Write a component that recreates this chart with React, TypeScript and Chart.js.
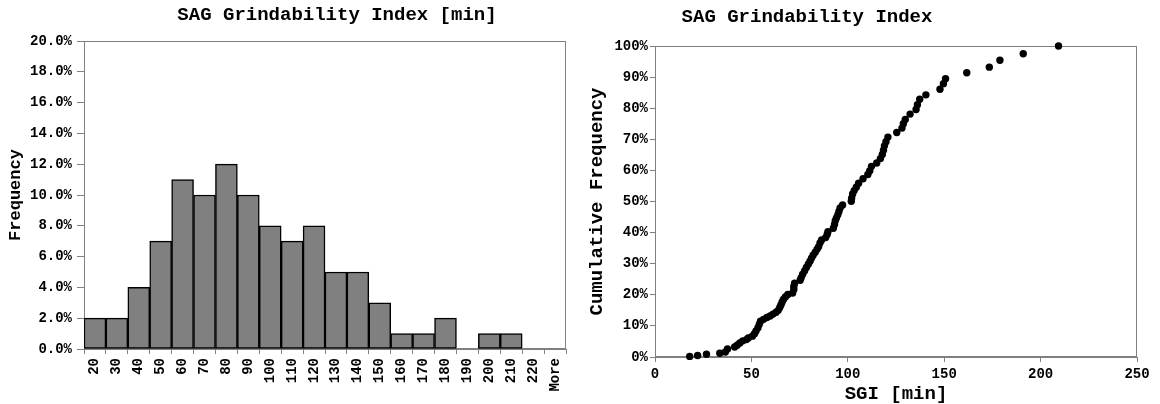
import React, { useEffect, useRef } from "react";
import { Chart, registerables } from "chart.js";

Chart.register(...registerables);

// ---------- data ----------
const binLabels = ["20", "30", "40", "50", "60", "70", "80", "90", "100", "110", "120", "130", "140", "150", "160", "170", "180", "190", "200", "210", "220", "More"];
const binFrequency = [2, 2, 4, 7, 11, 10, 12, 10, 8, 7, 8, 5, 5, 3, 1, 1, 2, 0, 1, 1, 0, 0];

const sgiValues = [
  18.0, 22.1, 26.7, 33.6, 36.5, 37.6, 41.3, 42.6, 44.0, 45.5, 47.4, 48.4, 50.5, 51.6, 52.4, 53.4,
  54.1, 54.7, 56.3, 58.0, 59.7, 61.2, 62.8, 63.9, 64.7, 65.3, 65.9, 66.6, 67.6, 68.9, 71.4, 72.0,
  72.0, 72.4, 75.3, 75.8, 76.6, 77.6, 78.5, 79.5, 80.4, 81.2, 82.0, 83.1, 84.1, 84.9, 85.6, 86.4,
  88.5, 89.3, 89.7, 92.5, 93.1, 93.5, 94.1, 94.8, 95.4, 96.0, 97.3, 101.8, 102.0, 102.5, 103.3,
  104.4, 105.6, 107.9, 110.4, 111.4, 112.3, 115.0, 116.9, 117.9, 118.5, 119.0, 119.8, 120.8,
  125.4, 128.1, 128.8, 129.8, 132.3, 135.4, 136.1, 137.3, 140.5, 147.8, 149.6, 150.7, 161.7,
  173.4, 178.9, 191.0, 209.3,
];
const cumulativeFrequency = [
  0.2, 0.5, 0.9, 1.2, 1.6, 2.6, 3.2, 3.8, 4.5, 5.2, 5.6, 6.1, 6.7, 7.5, 8.4, 9.4,
  10.5, 11.5, 12.1, 12.7, 13.2, 13.8, 14.4, 15.0, 15.9, 16.7, 17.6, 18.5, 19.3, 20.1, 20.6, 21.7,
  22.7, 23.7, 24.7, 25.5, 26.6, 27.7, 28.8, 29.8, 30.8, 31.8, 32.7, 33.7, 34.7, 35.5, 36.7, 37.6,
  38.4, 39.4, 40.3, 41.4, 42.6, 43.8, 44.7, 45.7, 46.8, 47.9, 48.9, 50.1, 51.1, 52.4, 53.5,
  54.6, 55.9, 57.3, 58.7, 59.9, 61.3, 62.4, 63.8, 65.1, 66.5, 67.9, 69.2, 70.7,
  72.2, 73.6, 75.0, 76.4, 78.1, 79.6, 81.1, 82.9, 84.3, 86.1, 87.9, 89.5, 91.4,
  93.2, 95.4, 97.5, 100,
];

const histTitle = "SAG Grindability Index [min]";
const cumTitle = "SAG Grindability Index";

// ---------- styling ----------
const FONT = "'Liberation Mono', 'Courier New', monospace";
const GRAY = "#808080";

const frameBorder = {
  id: "frameBorder",
  beforeDatasetsDraw(chart: any) {
    const { ctx, chartArea } = chart;
    const { left, top, right, bottom } = chartArea;
    ctx.save();
    ctx.strokeStyle = GRAY;
    ctx.lineWidth = 1;
    ctx.strokeRect(Math.round(left) + 0.5, Math.round(top) + 0.5, Math.round(right - left) - 1, Math.round(bottom - top) - 1);
    ctx.restore();
  },
};

// chart title drawn as text at a fixed centre (the reference title is not centred on the plot)
const fixedTitle = {
  id: "fixedTitle",
  afterDraw(chart: any, _args: any, opts: any) {
    if (!opts || !opts.text) return;
    const { ctx } = chart;
    ctx.save();
    ctx.font = `bold ${opts.size}px ${FONT}`;
    ctx.fillStyle = "#000";
    ctx.textAlign = "center";
    ctx.textBaseline = "middle";
    ctx.fillText(opts.text, opts.x, opts.y);
    ctx.restore();
  },
};

export default function App() {
  const leftRef = useRef<HTMLCanvasElement>(null);
  const rightRef = useRef<HTMLCanvasElement>(null);

  useEffect(() => {
    Chart.defaults.color = "#000";
    Chart.defaults.font.family = FONT;

    const tickFont = { family: FONT, size: 14, weight: "bold" as const };

    const left = new Chart(leftRef.current!, {
      type: "bar",
      data: {
        labels: binLabels,
        datasets: [
          {
            data: binFrequency,
            backgroundColor: GRAY,
            borderColor: "#000",
            borderWidth: (c: any) => (c.raw === 0 ? 0 : 1.5),
            borderSkipped: false,
            barPercentage: 1,
            categoryPercentage: 1,
          },
        ],
      },
      options: {
        responsive: false,
        animation: false,
        devicePixelRatio: 1,
        layout: { padding: { left: 0, right: 14, top: 41, bottom: 0 } },
        plugins: {
          legend: { display: false },
          tooltip: { enabled: false },
          title: { display: false },
          fixedTitle: { text: histTitle, x: 337, y: 15.5, size: 19 },
        } as any,
        scales: {
          x: {
            type: "category",
            offset: true,
            grid: { display: true, drawOnChartArea: false, drawTicks: true, tickLength: 5, color: GRAY, offset: true },
            border: { display: true, color: GRAY },
            ticks: { minRotation: 90, maxRotation: 90, autoSkip: false, padding: 4, font: tickFont, color: "#000" },
            afterFit(s: any) {
              s.height = 55;
            },
          },
          y: {
            min: 0,
            max: 20,
            ticks: {
              stepSize: 2,
              padding: 5,
              font: tickFont,
              color: "#000",
              callback: (v: any) => Number(v).toFixed(1) + "%",
            },
            grid: { drawOnChartArea: false, tickLength: 7, color: GRAY },
            border: { display: true, color: GRAY },
            title: {
              display: true,
              text: "Frequency",
              color: "#000",
              font: { family: FONT, size: 17, weight: "bold", lineHeight: 1.2 },
              padding: { top: 6, bottom: 0 },
            },
            afterFit(s: any) {
              s.width = 84;
            },
          },
        },
      },
      plugins: [frameBorder, fixedTitle],
    });

    const right = new Chart(rightRef.current!, {
      type: "scatter",
      data: {
        datasets: [
          {
            data: sgiValues.map((x, i) => ({ x, y: cumulativeFrequency[i] })),
            backgroundColor: "#000",
            borderColor: "#000",
            borderWidth: 0,
            pointRadius: 3.7,
            showLine: false,
            clip: false,
          },
        ],
      },
      options: {
        responsive: false,
        animation: false,
        devicePixelRatio: 1,
        layout: { padding: { left: 0, right: 23, top: 46, bottom: 0 } },
        plugins: {
          legend: { display: false },
          tooltip: { enabled: false },
          title: { display: false },
          fixedTitle: { text: cumTitle, x: 305, y: 17, size: 19 },
        } as any,
        scales: {
          x: {
            type: "linear",
            min: 0,
            max: 250,
            ticks: { stepSize: 50, padding: 4, font: tickFont, color: "#000", maxRotation: 0 },
            grid: { drawOnChartArea: false, tickLength: 5, color: GRAY },
            border: { display: true, color: GRAY },
            title: {
              display: true,
              text: "SGI [min]",
              color: "#000",
              font: { family: FONT, size: 19, weight: "bold", lineHeight: 1 },
              padding: { top: 0, bottom: 0 },
            },
            afterFit(s: any) {
              s.height = 47;
            },
          },
          y: {
            min: 0,
            max: 100,
            ticks: {
              stepSize: 10,
              padding: 2,
              font: tickFont,
              color: "#000",
              callback: (v: any) => v + "%",
            },
            grid: { drawOnChartArea: false, tickLength: 5, color: GRAY },
            border: { display: true, color: GRAY },
            title: {
              display: true,
              text: "Cumulative Frequency",
              color: "#000",
              font: { family: FONT, size: 19, weight: "bold", lineHeight: 1.2 },
              padding: { top: 84, bottom: 0 },
            },
            afterFit(s: any) {
              s.width = 153;
            },
          },
        },
      },
      plugins: [frameBorder, fixedTitle],
    });

    return () => {
      left.destroy();
      right.destroy();
    };
  }, []);

  return (
    <div style={{ position: "fixed", left: 0, top: 0, width: 1160, height: 404, background: "#fff", overflow: "hidden" }}>
      <canvas ref={leftRef} width={580} height={404} style={{ position: "absolute", left: 0, top: 0 }} />
      <canvas ref={rightRef} width={658} height={404} style={{ position: "absolute", left: 502, top: 0 }} />
    </div>
  );
}
